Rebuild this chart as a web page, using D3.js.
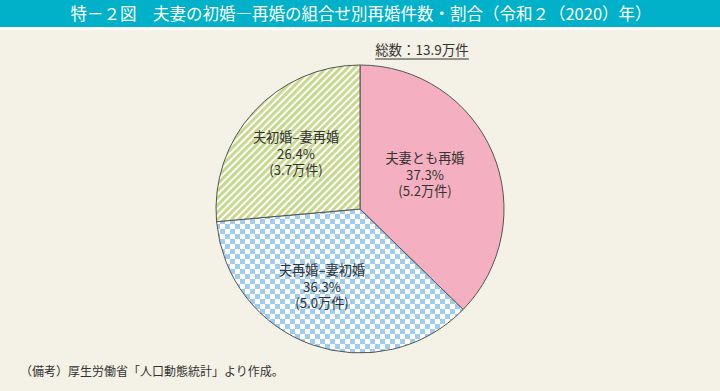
<!DOCTYPE html>
<html><head><meta charset="utf-8">
<script src="https://cdn.jsdelivr.net/npm/d3@7"></script>
<style>body{margin:0;background:#f4f1e6;}svg{display:block;font-family:"Noto Sans CJK JP","Noto Sans",sans-serif;}</style>
</head><body>
<svg id="c" width="720" height="391"></svg>
<script>
const title = "特－２図　夫妻の初婚―再婚の組合せ別再婚件数・割合（令和２（2020）年）";
const categories = ["夫妻とも再婚", "夫再婚–妻初婚", "夫初婚–妻再婚"];
const shares = [37.3, 36.3, 26.4];
const counts = ["5.2", "5.0", "3.7"];
const total = "総数：13.9万件";
const note = "（備考）厚生労働省「人口動態統計」より作成。";

const svg = d3.select("#c");
const W = 720, H = 391;
svg.append("rect").attr("width", W).attr("height", H).attr("fill", "#f4f1e6");
svg.append("rect").attr("width", W).attr("height", 30).attr("fill", "#ffffff");
svg.append("rect").attr("width", W).attr("height", 27).attr("fill", "#00b1c9");
svg.append("text").attr("x", 361).attr("y", 20).attr("text-anchor", "middle")
  .attr("fill", "#fff").attr("font-size", 16.5).text(title);

const defs = svg.append("defs");
const pb = defs.append("pattern").attr("id", "checker").attr("patternUnits", "userSpaceOnUse")
  .attr("width", 10).attr("height", 10);
pb.append("rect").attr("width", 10).attr("height", 10).attr("fill", "#ffffff");
pb.append("rect").attr("width", 5).attr("height", 5).attr("fill", "#9fcdf0");
pb.append("rect").attr("x", 5).attr("y", 5).attr("width", 5).attr("height", 5).attr("fill", "#9fcdf0");
const pg = defs.append("pattern").attr("id", "stripes").attr("patternUnits", "userSpaceOnUse")
  .attr("width", 5).attr("height", 5).attr("patternTransform", "rotate(45)");
pg.append("rect").attr("width", 5).attr("height", 5).attr("fill", "#ffffff");
pg.append("rect").attr("width", 2.9).attr("height", 5).attr("fill", "#c6d889");

const fills = ["#f4b0c0", "url(#checker)", "url(#stripes)"];
const cx = 360, cy = 209, R = 144;
const pie = d3.pie().sort(null).value(d => d)(shares);
const arc = d3.arc().innerRadius(0).outerRadius(R);
const g = svg.append("g").attr("transform", `translate(${cx},${cy})`);
g.selectAll("path").data(pie).join("path").attr("d", arc)
  .attr("fill", (d, i) => fills[i]).attr("stroke", "#555").attr("stroke-width", 1);

const labelPos = [[65, -46], [-38, 66], [-64, -67]];
pie.forEach((d, i) => {
  const lines = [categories[i], shares[i].toFixed(1) + "%", "(" + counts[i] + "万件)"];
  lines.forEach((s, j) => g.append("text").attr("text-anchor", "middle").attr("font-size", 13.2)
    .attr("fill", "#333").attr("x", labelPos[i][0]).attr("y", labelPos[i][1] + j * 16.5).text(s));
});

const tt = svg.append("text").attr("x", 422).attr("y", 55).attr("text-anchor", "middle")
  .attr("font-size", 13.5).attr("fill", "#333").text(total);
const bb = tt.node().getBBox();
svg.append("line").attr("x1", bb.x).attr("x2", bb.x + bb.width).attr("y1", 59).attr("y2", 59)
  .attr("stroke", "#333").attr("stroke-width", 1);

svg.append("text").attr("x", 20).attr("y", 376).attr("font-size", 12).attr("fill", "#333").text(note);
</script>
</body></html>
